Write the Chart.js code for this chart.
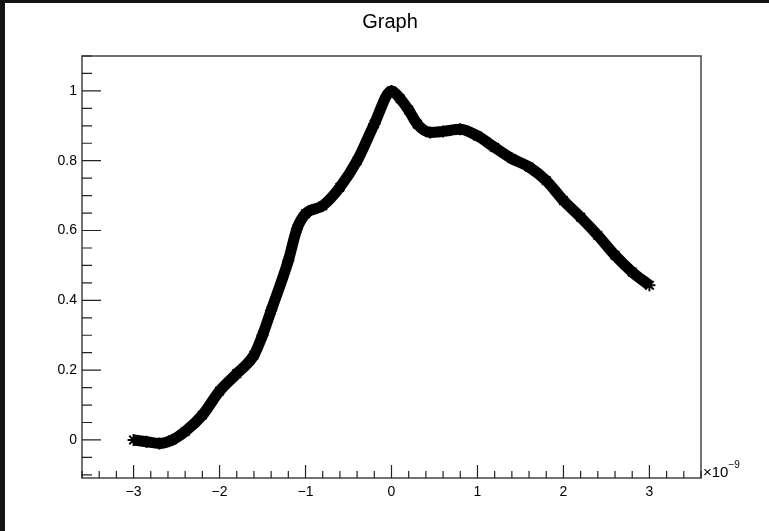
<!DOCTYPE html>
<html>
<head>
<meta charset="utf-8">
<script src="https://cdn.jsdelivr.net/npm/chart.js@4.4.0/dist/chart.umd.min.js"></script>
<style>
  body { margin: 0; background: #141414; }
  #pad { position: absolute; left: 5px; top: 3px; width: 764px; height: 528px; background: #fff; }
</style>
</head>
<body>
<div id="pad"><canvas id="graph"></canvas></div>
<script>
// values (x in units of 1e-9)
const xValues = [-3, -2.85, -2.7, -2.55, -2.4, -2.2, -2, -1.8, -1.6, -1.5, -1.4, -1.2, -1.1, -1, -0.8, -0.6, -0.4, -0.2, 0, 0.1, 0.2, 0.3, 0.45, 0.6, 0.8, 1, 1.2, 1.4, 1.6, 1.8, 2, 2.2, 2.4, 2.6, 2.8, 3]
const yValues = [0, -0.005, -0.01, 0.0, 0.024, 0.071, 0.14, 0.19, 0.243, 0.30, 0.371, 0.514, 0.605, 0.648, 0.671, 0.724, 0.80, 0.905, 1.0, 0.978, 0.945, 0.905, 0.881, 0.884, 0.89, 0.871, 0.838, 0.806, 0.782, 0.743, 0.686, 0.638, 0.586, 0.529, 0.481, 0.443]
const xTicks = [-3, -2, -1, 0, 1, 2, 3]
const yTicks = [0, 0.2, 0.4, 0.6, 0.8, 1]

const points = xValues.map((x, i) => ({ x: x, y: yValues[i] }))

function fmt(v) {
    return String(v).replace('-', '\u2212')
}

// ROOT style frame, inside ticks, title and exponent
const rootFrame = {
    id: 'rootFrame',
    afterDraw(chart) {
        const ctx = chart.ctx
        const a = chart.chartArea
        const xs = chart.scales.x
        const ys = chart.scales.y
        ctx.save()
        ctx.strokeStyle = '#444'
        ctx.lineWidth = 1.5
        ctx.strokeRect(a.left, a.top, a.right - a.left, a.bottom - a.top)

        ctx.strokeStyle = '#222'
        ctx.lineWidth = 1.2
        ctx.beginPath()
        for (let i = -18; i <= 18; i++) {//x ticks every 0.2
            const v = i / 5
            const px = xs.getPixelForValue(v)
            const len = (i % 5 === 0) ? 13 : 7
            ctx.moveTo(px, a.bottom)
            ctx.lineTo(px, a.bottom - len)
        }
        for (let i = -2; i <= 22; i++) {//y ticks every 0.05
            const v = i / 20
            const py = ys.getPixelForValue(v)
            const len = (i % 4 === 0) ? 19 : 10
            ctx.moveTo(a.left, py)
            ctx.lineTo(a.left + len, py)
        }
        ctx.stroke()

        ctx.fillStyle = '#000'
        ctx.textBaseline = 'alphabetic'
        ctx.font = '20px "Liberation Sans"'
        ctx.textAlign = 'center'
        ctx.fillText('Graph', 385, 25)

        ctx.textAlign = 'left'
        ctx.font = '15px "Liberation Sans"'
        const base = '\u00d710'
        ctx.fillText(base, a.right + 2, a.bottom - 1)
        const w = ctx.measureText(base).width
        ctx.font = '10px "Liberation Sans"'
        ctx.fillText('\u22129', a.right + 2 + w, a.bottom - 10)
        ctx.restore()
    }
}

new Chart(document.getElementById('graph'), {
    type: 'line',
    data: {
        datasets: [{
            data: points,
            borderColor: '#000',
            backgroundColor: '#000',
            borderWidth: 11,
            cubicInterpolationMode: 'monotone',
            borderCapStyle: 'butt',
            pointStyle: 'star',
            pointRadius: 6,
            pointBorderWidth: 2,
            pointBorderColor: '#000'
        }]
    },
    options: {
        responsive: true,
        maintainAspectRatio: false,
        animation: false,
        events: [],
        layout: { padding: { left: 0, top: 53, right: 68, bottom: 0 } },
        plugins: { legend: { display: false }, title: { display: false }, tooltip: { enabled: false } },
        scales: {
            x: {
                type: 'linear',
                min: -3.6,
                max: 3.6,
                afterBuildTicks: s => { s.ticks = xTicks.map(v => ({ value: v })) },
                afterFit: s => { s.height = 53 },
                grid: { display: false, drawTicks: false },
                border: { display: false },
                ticks: {
                    padding: 6,
                    color: '#000',
                    font: { family: 'Liberation Sans', size: 14 },
                    callback: v => fmt(v)
                }
            },
            y: {
                min: -0.109,
                max: 1.1,
                afterBuildTicks: s => { s.ticks = yTicks.map(v => ({ value: v })) },
                afterFit: s => { s.width = 77 },
                grid: { display: false, drawTicks: false },
                border: { display: false },
                ticks: {
                    padding: 5,
                    color: '#000',
                    font: { family: 'Liberation Sans', size: 14 },
                    callback: v => fmt(Math.round(v * 10) / 10)
                }
            }
        }
    },
    plugins: [rootFrame]
})
</script>
</body>
</html>
